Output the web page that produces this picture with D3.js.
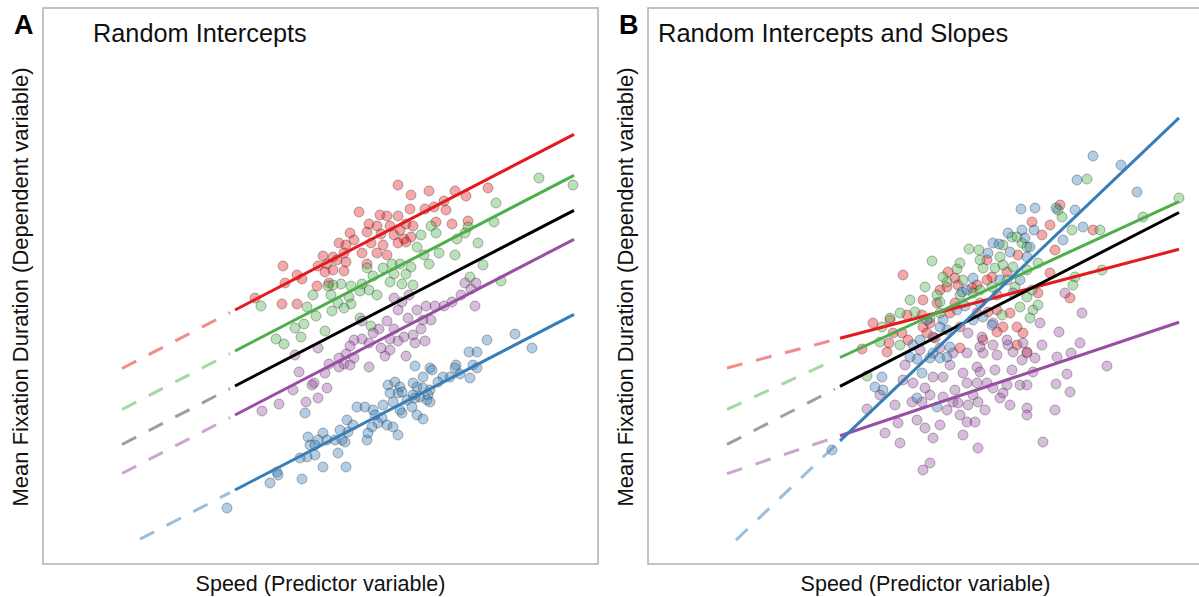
<!DOCTYPE html>
<html>
<head>
<meta charset="utf-8">
<script src="https://cdn.jsdelivr.net/npm/d3@7"></script>
<style>
  body { margin: 0; background: #fff; }
  text { font-family: "Liberation Sans", Arial, Helvetica, sans-serif; fill: #111; }
</style>
</head>
<body>
<svg id="chart" width="1199" height="597"></svg>
<script>
// ---- data (speed, mean fixation duration), arbitrary units ----
var groups = ["red", "green", "purple", "blue"];
var colors = { red: "#E41A1C", green: "#4DAF4A", purple: "#984EA3", blue: "#377EB8", black: "#000000" };

var redA = [[39.8,41.5],[41.1,40.5],[42.9,40.9],[45.5,40.9],[46.6,40.4],[48.8,41.2],[35.9,38.8],[38.0,38.5],[38.7,38.4],[39.8,38.4],[41.0,39.1],[42.5,39.1],[43.4,39.3],[44.4,39.9],[44.6,39.0],[36.9,37.6],[37.7,37.4],[39.0,37.4],[40.0,37.0],[40.6,37.6],[41.3,37.4],[43.6,37.8],[45.2,37.6],[46.8,37.9],[35.0,36.7],[36.7,36.8],[38.1,36.6],[39.4,36.5],[40.4,36.1],[41.1,36.3],[33.9,35.7],[34.6,35.5],[35.4,36.0],[37.1,35.7],[38.3,35.5],[39.8,35.7],[40.6,35.8],[32.3,34.4],[33.3,34.3],[34.4,34.7],[36.2,34.7],[37.7,34.7],[38.7,34.5],[28.3,33.4],[31.8,33.4],[32.7,33.6],[33.7,34.0],[34.6,33.8],[36.7,33.6],[29.7,32.5],[30.2,32.1],[32.5,32.8],[33.3,33.0],[34.4,32.9],[28.5,31.7],[31.7,31.4],[32.9,31.7],[25.5,30.2],[28.2,29.6],[29.7,29.6]];
var greenA = [[53.9,42.2],[57.3,41.5],[49.6,39.7],[49.4,37.8],[46.8,37.3],[46.5,36.7],[45.7,36.1],[47.8,35.7],[45.5,34.5],[48.3,33.5],[47.0,32.3],[50.1,31.9],[43.1,37.4],[43.6,36.7],[42.1,36.5],[41.7,35.3],[43.9,34.7],[42.4,34.5],[42.9,33.6],[41.1,33.3],[40.0,33.6],[40.6,32.6],[41.3,31.5],[39.2,33.6],[38.3,33.2],[39.4,32.6],[39.0,31.8],[40.2,31.6],[36.7,33.2],[37.3,32.4],[36.2,31.6],[36.9,31.0],[37.7,30.5],[36.0,30.9],[35.1,31.4],[34.9,30.3],[35.1,29.6],[34.1,31.6],[33.3,31.5],[32.8,31.4],[33.1,30.5],[33.8,29.7],[34.4,29.2],[36.0,28.2],[37.1,27.4],[33.2,28.9],[30.7,29.3],[31.6,28.4],[32.5,26.9],[30.4,27.6],[29.5,27.2],[30.1,26.3],[27.6,26.1],[28.4,25.6],[26.1,29.4],[31.3,30.5]];
var purpleA = [[46.5,31.7],[47.6,31.7],[47.1,31.1],[47.5,29.4],[46.1,30.5],[45.2,29.8],[44.4,29.4],[43.5,29.4],[42.6,29.4],[41.7,29.0],[40.9,30.5],[40.2,29.8],[39.4,30.2],[39.8,29.0],[40.8,28.2],[42.3,28.0],[43.1,28.0],[42.1,27.1],[41.3,26.5],[42.5,25.9],[41.5,25.7],[40.4,26.3],[39.8,25.9],[39.0,26.1],[39.4,27.1],[38.7,27.9],[37.9,27.1],[37.3,26.7],[36.2,27.9],[36.9,25.7],[36.2,26.1],[35.4,26.0],[35.0,25.4],[34.6,24.6],[33.9,24.2],[34.4,23.6],[35.0,23.5],[35.4,24.2],[36.9,23.3],[38.5,24.4],[38.1,25.2],[39.0,25.0],[40.6,24.4],[31.8,25.2],[29.5,24.5],[32.9,23.6],[33.9,23.3],[32.5,22.7],[29.9,22.8],[31.4,21.7],[29.3,21.0],[30.6,19.8],[31.8,20.2],[32.7,21.2],[31.2,21.5],[27.9,19.6],[26.2,18.9]];
var blueA = [[48.7,26.0],[51.5,26.6],[53.2,25.2],[46.9,24.8],[47.7,24.8],[41.5,23.4],[43.0,23.2],[43.2,23.0],[45.6,23.5],[45.5,23.2],[47.3,23.5],[47.7,23.2],[47.0,22.2],[46.0,22.6],[45.0,22.3],[44.3,22.3],[43.8,21.8],[42.3,22.3],[38.8,21.5],[39.5,21.8],[40.0,21.3],[41.7,21.3],[42.3,21.2],[43.0,21.0],[41.3,20.5],[42.0,20.3],[42.8,20.5],[42.7,20.0],[43.0,19.8],[39.8,20.7],[39.3,19.8],[38.3,19.5],[40.7,20.0],[41.2,19.3],[40.2,18.7],[40.0,19.0],[41.7,18.5],[42.3,18.1],[38.2,18.2],[39.8,16.5],[40.2,20.8],[39.0,20.7],[41.3,21.7],[41.5,20.2],[35.7,19.3],[36.5,19.3],[37.3,19.0],[37.5,18.5],[37.8,17.7],[37.2,17.3],[38.7,17.5],[39.3,17.3],[34.7,18.0],[35.3,17.5],[34.8,16.8],[34.0,17.0],[33.5,16.0],[34.2,16.0],[34.5,15.8],[36.7,16.0],[36.8,16.7],[32.3,16.7],[32.7,16.0],[31.8,16.0],[30.8,16.3],[31.0,15.5],[31.5,15.5],[30.5,18.7],[31.5,14.5],[30.7,14.3],[30.0,14.2],[33.8,14.7],[32.3,13.3],[34.6,13.3],[27.7,12.8],[27.8,12.5],[27.0,11.7],[30.2,12.1],[22.7,9.2]];

var redB = [[29.8,32.5],[34.3,32.8],[35.0,32.2],[33.5,31.0],[38.2,34.0],[38.7,32.3],[40.2,32.8],[42.7,37.8],[33.2,29.7],[35.0,29.7],[37.2,31.5],[37.2,28.7],[38.3,28.8],[39.8,27.3],[41.2,27.3],[39.2,26.8],[31.8,27.3],[32.2,26.7],[30.3,26.0],[29.7,26.7],[28.5,28.0],[28.4,25.7],[28.2,24.8],[25.7,25.1],[33.0,26.2],[35.5,27.3],[43.7,36.5],[44.5,37.5],[48.8,37.0],[45.5,39.5],[45.0,35.0],[44.5,32.7],[46.5,30.2],[41.3,34.5],[43.3,30.7],[41.8,26.7],[42.2,24.8],[41.2,25.5],[26.8,27.7],[35.5,25.2],[37.8,26.0],[31.7,28.5],[34.5,28.7],[35.3,31.5],[36.7,31.2],[32.5,27.7],[39.2,29.0],[40.5,28.7],[38.2,32.0],[34.2,31.3],[31.8,30.0],[30.2,28.5],[28.8,26.7],[39.2,30.5]];
var greenB = [[36.4,35.1],[37.4,35.0],[32.7,33.9],[40.7,36.3],[41.7,35.7],[39.5,34.3],[39.0,33.2],[37.8,33.2],[35.2,33.1],[35.8,32.0],[34.2,31.8],[33.2,30.5],[36.8,30.7],[42.2,33.0],[43.3,33.7],[41.0,31.3],[41.5,29.3],[42.8,29.0],[39.7,28.5],[33.5,28.7],[32.5,28.2],[31.0,28.8],[29.5,25.5],[27.5,25.8],[48.2,42.1],[57.4,40.2],[53.8,38.3],[49.5,37.0],[46.7,37.0],[45.7,38.3],[49.7,33.0],[47.0,32.3],[46.8,31.5],[45.3,39.0],[41.2,36.3],[39.8,35.5],[42.2,35.3],[43.3,29.5],[42.5,28.2],[26.2,22.4],[28.5,28.2],[33.5,29.8],[35.5,30.5],[37.5,31.0],[38.7,31.3],[40.2,32.0],[40.8,33.3],[39.8,33.5],[37.5,34.0],[35.5,33.7],[33.8,32.3],[32.0,31.3],[30.5,30.0],[29.5,28.7],[27.7,27.3],[42.2,30.3],[42.7,31.0]];
var purpleB = [[36.3,26.7],[37.7,26.3],[38.8,25.5],[40.8,24.8],[41.8,25.7],[37.8,24.7],[34.8,24.7],[33.5,25.2],[40.3,25.5],[39.2,24.5],[37.2,23.3],[37.5,22.8],[35.8,22.7],[36.2,21.7],[37.2,21.7],[38.2,21.7],[38.8,21.2],[40.2,21.5],[39.8,20.7],[39.5,20.2],[41.5,21.5],[42.2,21.5],[40.7,23.0],[41.7,24.0],[42.8,22.8],[35.0,21.0],[34.8,19.8],[33.8,20.3],[35.3,19.7],[36.3,19.5],[37.3,19.8],[36.8,20.5],[32.5,20.5],[31.7,19.8],[30.7,19.8],[34.2,19.0],[32.8,22.3],[33.8,22.3],[30.8,21.7],[29.8,22.0],[26.2,19.1],[29.3,17.7],[28.0,16.7],[29.5,15.7],[31.2,18.0],[32.0,17.2],[32.8,16.2],[35.8,16.5],[36.2,17.8],[37.0,17.8],[37.3,15.2],[31.8,13.0],[32.5,13.7],[42.2,19.2],[46.0,30.7],[47.7,28.7],[45.4,26.8],[47.5,25.7],[43.7,25.5],[45.2,24.3],[46.6,24.7],[50.2,23.4],[46.2,22.6],[45.1,21.6],[46.5,20.8],[45.0,19.0],[42.2,18.5],[43.8,15.8],[43.0,24.2],[38.8,27.7],[40.2,26.0],[37.5,25.3],[36.2,24.7],[32.8,26.3],[42.2,24.7],[31.5,25.0],[43.5,27.7],[27.5,20.5],[29.0,19.5],[30.0,23.5],[32.0,21.2],[34.5,23.5],[35.5,18.5],[38.0,19.0],[39.0,23.0],[40.5,19.5],[33.5,17.5]];
var blueB = [[41.6,39.1],[43.0,39.2],[42.9,37.0],[41.7,37.0],[38.8,35.7],[39.4,35.6],[36.8,32.2],[35.7,30.8],[42.0,36.2],[40.5,34.8],[41.5,32.0],[40.8,30.7],[36.0,29.4],[37.8,28.3],[38.7,27.5],[34.2,27.0],[33.8,28.0],[31.2,24.1],[32.8,24.7],[27.7,22.3],[27.0,21.3],[27.8,21.0],[30.5,24.3],[30.8,25.5],[31.7,22.7],[33.2,19.3],[32.5,24.2],[33.5,24.2],[34.2,24.3],[31.2,20.2],[48.8,44.4],[51.6,43.5],[47.2,42.0],[53.2,40.8],[45.1,39.2],[47.0,39.0],[47.8,37.3],[45.8,36.0],[42.5,35.3],[22.7,15.0],[36.2,31.0],[37.5,29.7],[35.2,29.0],[36.8,28.0],[39.5,32.0],[38.3,34.7],[40.3,36.7],[42.2,34.3],[33.5,27.3],[32.2,28.0],[31.5,26.0],[34.5,25.3]];

// fitted lines: y = intercept + slope * speed
var lineGroups = ["red", "green", "black", "purple", "blue"];
var interceptsA = [16.83, 12.73, 9.23, 6.33, -1.17];
var slopesA = [0.518, 0.518, 0.518, 0.518, 0.518];
var interceptsB = [20.0, 13.44, 9.3, 8.55, -6.49];
var slopesB = [0.2625, 0.46, 0.513, 0.335, 0.953];
// where the extrapolated (dashed) part starts
var dashStartA = [12.2, 12.2, 12.2, 12.2, 14.0];
var dashStartB = [12.2, 12.2, 12.2, 12.2, 13.1];
var dashEnd = 23.0, solidStart = 23.5, solidEnd = 57.4;

var xDomain = [4.3, 59.8], yDomain = [3.5, 59.2];

// ---- layout ----
var svg = d3.select("#chart");
var panelW = 555, panelH = 556, panelTop = 8;

function drawPanel(cfg) {
	var left = cfg.left;
	var x = d3.scaleLinear().domain(xDomain).range([left, left + panelW]);
	var y = d3.scaleLinear().domain(yDomain).range([panelTop + panelH + 1, panelTop]);
	var g = svg.append("g");

	g.append("rect")
		.attr("x", left).attr("y", panelTop)
		.attr("width", panelW).attr("height", panelH)
		.attr("fill", "none").attr("stroke", "#b4b4b4").attr("stroke-width", 1.6);

	// points
	groups.forEach(function(name) {
		g.append("g").selectAll("circle")
			.data(cfg.points[name])
			.enter().append("circle")
			.attr("cx", function(d) { return x(d[0]); })
			.attr("cy", function(d) { return y(d[1]); })
			.attr("r", 5)
			.attr("fill", colors[name])
			.attr("fill-opacity", 0.38)
			.attr("stroke", "#000")
			.attr("stroke-opacity", 0.32)
			.attr("stroke-width", 0.9);
	});

	var line = d3.line()
		.x(function(d) { return x(d[0]); })
		.y(function(d) { return y(d[1]); });

	// dashed extrapolation, then the solid fit
	lineGroups.forEach(function(name, i) {
		var a = cfg.intercepts[i], b = cfg.slopes[i];
		var x0 = cfg.dashStart[i];
		g.append("path")
			.attr("d", line([[x0, a + b * x0], [dashEnd, a + b * dashEnd]]))
			.attr("fill", "none")
			.attr("stroke", colors[name])
			.attr("stroke-opacity", name == "black" ? 0.38 : 0.5)
			.attr("stroke-width", 3)
			.attr("stroke-dasharray", "16,14");
	});
	lineGroups.forEach(function(name, i) {
		var a = cfg.intercepts[i], b = cfg.slopes[i];
		g.append("path")
			.attr("d", line([[solidStart, a + b * solidStart], [solidEnd, a + b * solidEnd]]))
			.attr("fill", "none")
			.attr("stroke", colors[name])
			.attr("stroke-width", 3);
	});

	// texts
	svg.append("text").text(cfg.letter)
		.attr("x", left - 29).attr("y", 34)
		.attr("font-size", 27).attr("font-weight", "bold").style("fill", "#000");
	svg.append("text").text(cfg.title)
		.attr("x", left + cfg.titleOffset).attr("y", 42)
		.attr("font-size", cfg.titleSize);
	svg.append("text").text("Speed (Predictor variable)")
		.attr("x", left + panelW / 2).attr("y", 591)
		.attr("text-anchor", "middle").attr("font-size", 21.5);
	svg.append("text").text("Mean Fixation Duration (Dependent variable)")
		.attr("transform", "translate(" + (left - 15) + "," + (panelTop + panelH / 2 + 1) + ") rotate(-90)")
		.attr("text-anchor", "middle").attr("font-size", 22);
}

drawPanel({
	left: 43, letter: "A", title: "Random Intercepts", titleOffset: 50, titleSize: 25.3,
	points: { red: redA, green: greenA, purple: purpleA, blue: blueA },
	intercepts: interceptsA, slopes: slopesA, dashStart: dashStartA
});
drawPanel({
	left: 648, letter: "B", title: "Random Intercepts and Slopes", titleOffset: 10, titleSize: 25.5,
	points: { red: redB, green: greenB, purple: purpleB, blue: blueB },
	intercepts: interceptsB, slopes: slopesB, dashStart: dashStartB
});
</script>
</body>
</html>
